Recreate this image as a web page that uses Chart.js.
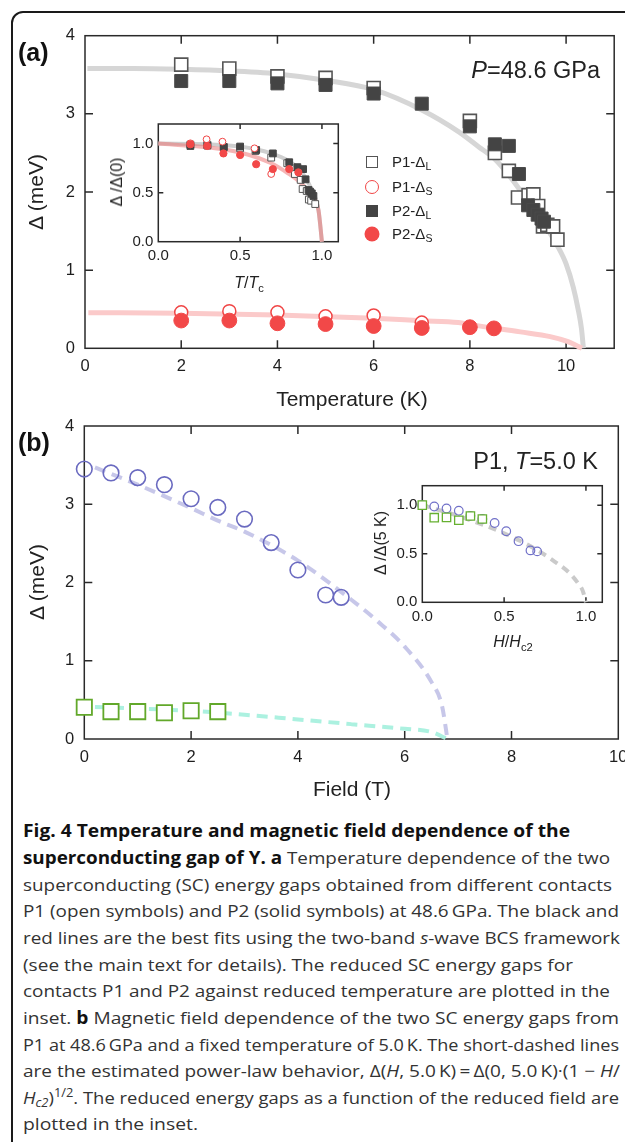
<!DOCTYPE html>
<html><head><meta charset="utf-8">
<script src="https://cdn.jsdelivr.net/npm/chart.js@4.4.1/dist/chart.umd.min.js"></script>
<style>
html,body{margin:0;padding:0;background:#fff;}
body{width:625px;height:1142px;overflow:hidden;position:relative;font-family:"Liberation Sans",Arial,sans-serif;color:#222;}
#frame{position:absolute;left:10.5px;top:10.5px;width:720px;height:1220px;border:2.5px solid #1a1a1a;border-radius:12px;box-sizing:border-box;}
canvas{position:absolute;}
.t{position:absolute;white-space:nowrap;line-height:1;}
.c{transform:translate(-50%,-50%);}
.r{transform:translate(-50%,-50%) rotate(-90deg);}
.sub{font-size:0.7em;position:relative;top:0.32em;}
.sym{position:absolute;box-sizing:border-box;transform:translate(-50%,-50%);}
.cap{position:absolute;left:23px;white-space:nowrap;font-family:"Open Sans",sans-serif;font-size:17px;line-height:26.6px;color:#333;transform-origin:0 50%;}
.cap b{color:#111;}
.cap sub{font-size:0.7em;vertical-align:-0.25em;line-height:0;}
.cap sup{font-size:0.7em;vertical-align:0.6em;line-height:0;}
</style></head>
<body>
<div id="frame"></div>
<canvas id="cA" width="625" height="420" style="left:0;top:0"></canvas>
<canvas id="cAi" width="250" height="165" style="left:100px;top:110px"></canvas>
<canvas id="cB" width="660" height="400" style="left:0;top:400px"></canvas>
<canvas id="cBi" width="255" height="165" style="left:360px;top:470px"></canvas>

<!-- panel a texts -->
<div class="t" style="left:18px;top:52px;transform:translateY(-50%);font-weight:bold;font-size:25px;color:#111">(a)</div>
<div class="t r" style="left:35px;top:192px;font-size:21px">Δ (meV)</div>
<div class="t c" style="left:352px;top:398px;font-size:21px">Temperature (K)</div>
<div class="t" style="right:25px;top:71px;transform:translateY(-50%);font-size:23.5px"><i>P</i>=48.6 GPa</div>
<div class="t r" style="left:117px;top:182px;font-size:16px">Δ /Δ(0)</div>
<div class="t c" style="left:249px;top:283px;font-size:16px"><i>T</i>/<i>T</i><span class="sub">c</span></div>
<!-- legend -->
<div class="sym" style="left:372px;top:162px;width:12px;height:12px;border:1.5px solid #555;background:#fff"></div>
<div class="sym" style="left:372px;top:187px;width:14px;height:14px;border:1.5px solid #f04545;border-radius:50%;background:#fff"></div>
<div class="sym" style="left:372px;top:211px;width:12px;height:12px;background:#444"></div>
<div class="sym" style="left:372px;top:234px;width:15px;height:15px;background:#f24848;border-radius:50%"></div>
<div class="t" style="left:392px;top:162px;transform:translateY(-55%);font-size:15px">P1-Δ<span class="sub">L</span></div>
<div class="t" style="left:392px;top:187px;transform:translateY(-55%);font-size:15px">P1-Δ<span class="sub">S</span></div>
<div class="t" style="left:392px;top:211px;transform:translateY(-55%);font-size:15px">P2-Δ<span class="sub">L</span></div>
<div class="t" style="left:392px;top:234px;transform:translateY(-55%);font-size:15px">P2-Δ<span class="sub">S</span></div>

<!-- panel b texts -->
<div class="t" style="left:18px;top:442px;transform:translateY(-50%);font-weight:bold;font-size:25px;color:#111">(b)</div>
<div class="t r" style="left:36px;top:582px;font-size:21px">Δ (meV)</div>
<div class="t c" style="left:352px;top:788px;font-size:21px">Field (T)</div>
<div class="t" style="right:27px;top:462px;transform:translateY(-50%);font-size:23.5px">P1, <i>T</i>=5.0 K</div>
<div class="t r" style="left:381px;top:543px;font-size:16px">Δ /Δ(5 K)</div>
<div class="t c" style="left:513px;top:642px;font-size:16px"><i>H</i>/<i>H</i><span class="sub">c2</span></div>

<!-- caption -->
<div class="cap" data-r="570" style="top:818.4px"><b>Fig. 4 Temperature and magnetic field dependence of the</b></div>
<div class="cap" data-r="610" style="top:845px"><b>superconducting gap of Y. a</b> Temperature dependence of the two</div>
<div class="cap" data-r="612" style="top:871.7px">superconducting (SC) energy gaps obtained from different contacts</div>
<div class="cap" data-r="619" style="top:898.3px">P1 (open symbols) and P2 (solid symbols) at 48.6&thinsp;GPa. The black and</div>
<div class="cap" data-r="620" style="top:925px">red lines are the best fits using the two-band <i>s</i>-wave BCS framework</div>
<div class="cap" data-r="573" style="top:951.6px">(see the main text for details). The reduced SC energy gaps for</div>
<div class="cap" data-r="610" style="top:978.3px">contacts P1 and P2 against reduced temperature are plotted in the</div>
<div class="cap" data-r="619" style="top:1005px">inset. <b>b</b> Magnetic field dependence of the two SC energy gaps from</div>
<div class="cap" data-r="619" style="top:1031.6px">P1 at 48.6&thinsp;GPa and a fixed temperature of 5.0&thinsp;K. The short-dashed lines</div>
<div class="cap" data-r="620" style="top:1058.3px">are the estimated power-law behavior, Δ(<i>H</i>, 5.0&thinsp;K)&thinsp;=&thinsp;Δ(0, 5.0&thinsp;K)·(1 − <i>H</i>/</div>
<div class="cap" data-r="619" style="top:1084.5px"><i>H</i><sub><i>c2</i></sub>)<sup>1/2</sup>. The reduced energy gaps as a function of the reduced field are</div>
<div class="cap" data-r="198" style="top:1110.5px">plotted in the inset.</div>

<script>
// ================= DATA =================
// Panel (a) main
const tickXA = [0, 2, 4, 6, 8, 10];
const tickYA = [0, 1, 2, 3, 4];
const tempP1L = [2, 3, 4, 5, 6, 8, 8.52, 8.81, 9.0, 9.22, 9.32, 9.42, 9.52, 9.61, 9.73, 9.82];
const gapP1L  = [3.63, 3.58, 3.48, 3.46, 3.33, 2.91, 2.50, 2.27, 1.93, 1.96, 1.97, 1.82, 1.56, 1.58, 1.56, 1.39];
const tempP2L = [2, 3, 4, 5, 6, 7, 8, 8.52, 8.81, 9.02, 9.21, 9.32, 9.41, 9.49, 9.54];
const gapP2L  = [3.42, 3.42, 3.39, 3.37, 3.26, 3.13, 2.84, 2.61, 2.59, 2.23, 1.83, 1.77, 1.71, 1.66, 1.62];
const tempP1S = [2, 3, 4, 5, 6, 7];
const gapP1S  = [0.46, 0.475, 0.46, 0.41, 0.42, 0.33];
const tempP2S = [2, 3, 4, 5, 6, 7, 8, 8.5];
const gapP2S  = [0.355, 0.355, 0.32, 0.31, 0.285, 0.26, 0.27, 0.255];
const fitTempL = [0.05, 1, 2, 3, 4, 5, 6, 7, 7.77, 8.18, 8.52, 8.83, 9.14, 9.49, 9.83, 10.0, 10.15, 10.25, 10.32, 10.36];
const fitGapL  = [3.58, 3.58, 3.57, 3.55, 3.51, 3.43, 3.31, 3.05, 2.77, 2.58, 2.42, 2.20, 1.94, 1.64, 1.30, 1.08, 0.78, 0.50, 0.25, 0];
const fitTempS = [0.07, 2, 4, 6, 7, 7.76, 8.05, 9.05, 9.67, 10.04, 10.33];
const fitGapS  = [0.456, 0.448, 0.426, 0.384, 0.353, 0.33, 0.30, 0.21, 0.15, 0.085, 0];

// Panel (a) inset
const tickInset = [0, 0.5, 1.0];
const redTP1L = [0.196, 0.3, 0.4, 0.5, 0.594, 0.69, 0.788, 0.835, 0.87, 0.882, 0.907, 0.92, 0.934, 0.959];
const redDP1L = [0.99, 0.99, 0.963, 0.952, 0.925, 0.857, 0.80, 0.69, 0.63, 0.537, 0.517, 0.43, 0.418, 0.384];
const redTP2L = [0.196, 0.3, 0.4, 0.5, 0.598, 0.70, 0.8, 0.85, 0.885, 0.90, 0.918, 0.928, 0.938, 0.948];
const redDP2L = [0.976, 0.98, 0.966, 0.97, 0.935, 0.90, 0.81, 0.76, 0.74, 0.636, 0.527, 0.51, 0.493, 0.466];
const redTP1S = [0.196, 0.295, 0.392, 0.588, 0.69];
const redDP1S = [1.003, 1.044, 1.02, 0.952, 0.69];
const redTP2S = [0.196, 0.299, 0.398, 0.5, 0.598, 0.70, 0.80, 0.856];
const redDP2S = [0.993, 0.976, 0.90, 0.884, 0.79, 0.74, 0.74, 0.707];
const fitRedTL = [0, 0.3, 0.5, 0.69, 0.79, 0.876, 0.938, 0.979, 1.0];
const fitRedDL = [1.0, 0.993, 0.97, 0.90, 0.83, 0.71, 0.53, 0.32, 0];
const fitRedTS = [0, 0.3, 0.5, 0.69, 0.79, 0.876, 0.938, 0.979, 1.0];
const fitRedDS = [1.0, 0.963, 0.91, 0.80, 0.70, 0.59, 0.466, 0.32, 0];

// Panel (b) main
const tickXB = [0, 2, 4, 6, 8, 10];
const tickYB = [0, 1, 2, 3, 4];
const fieldL = [0, 0.5, 1, 1.5, 2, 2.5, 3, 3.5, 4, 4.52, 4.81];
const gapFieldL = [3.45, 3.40, 3.34, 3.25, 3.07, 2.96, 2.81, 2.51, 2.16, 1.84, 1.81];
const fieldS = [0, 0.5, 1, 1.5, 2, 2.5];
const gapFieldS = [0.405, 0.35, 0.35, 0.336, 0.36, 0.35];
const fitFieldL = [0.2, 1, 2, 2.5, 3, 4, 5, 5.5, 6, 6.5, 6.7, 6.8];
const fitGapFieldL = [3.47, 3.25, 2.95, 2.79, 2.65, 2.28, 1.78, 1.5, 1.18, 0.73, 0.42, 0];
const fitFieldS = [0.2, 1, 2, 3, 4, 5, 6, 6.5, 6.8];
const fitGapFieldS = [0.41, 0.39, 0.36, 0.31, 0.25, 0.19, 0.13, 0.09, 0];

// Panel (b) inset
const redHL = [0, 0.073, 0.148, 0.223, 0.294, 0.367, 0.442, 0.513, 0.588, 0.661, 0.702];
const redGL = [1.0, 0.986, 0.966, 0.942, 0.89, 0.858, 0.816, 0.731, 0.629, 0.534, 0.524];
const redHS = [0, 0.073, 0.148, 0.223, 0.294, 0.367];
const redGS = [1.0, 0.871, 0.874, 0.844, 0.888, 0.857];
const fitRedH = [0, 0.1, 0.2, 0.3, 0.4, 0.5, 0.6, 0.7, 0.8, 0.9, 0.95, 0.98, 1.0];
const fitRedG = [1.0, 0.95, 0.9, 0.84, 0.78, 0.71, 0.63, 0.54, 0.43, 0.30, 0.20, 0.12, 0];

// ================= HELPERS =================
const FONT = '"Liberation Sans", Arial, sans-serif';
const pts = (xs, ys) => xs.map((x, i) => ({x: x, y: ys[i]}));

const frameTicks = {
  id: 'frameTicks',
  beforeDatasetsDraw(chart, args, opts) {
    const {ctx, chartArea: a, scales} = chart;
    const L = opts.len || 8;
    ctx.save();
    ctx.strokeStyle = '#2a2a2a';
    ctx.lineWidth = opts.width || 1.5;
    ctx.strokeRect(a.left, a.top, a.right - a.left, a.bottom - a.top);
    ctx.beginPath();
    const xs = scales.x, ys = scales.y;
    xs.ticks.forEach(t => {
      if (t.value <= xs.min || t.value >= xs.max) return;
      const p = xs.getPixelForValue(t.value);
      ctx.moveTo(p, a.bottom); ctx.lineTo(p, a.bottom - L);
      ctx.moveTo(p, a.top); ctx.lineTo(p, a.top + L);
    });
    ys.ticks.forEach(t => {
      if (t.value <= ys.min || t.value >= ys.max) return;
      const p = ys.getPixelForValue(t.value);
      ctx.moveTo(a.left, p); ctx.lineTo(a.left + L, p);
      ctx.moveTo(a.right, p); ctx.lineTo(a.right - L, p);
    });
    ctx.stroke();
    ctx.restore();
  }
};

function axis(min, max, ticks, isX, fit, size, pad, fmt) {
  return {
    type: 'linear', min: min, max: max,
    grid: {display: false, drawTicks: false},
    border: {display: false},
    afterBuildTicks: s => { s.ticks = ticks.map(v => ({value: v})); },
    afterFit: s => { if (isX) s.height = fit; else s.width = fit; },
    ticks: {font: {family: FONT, size: size}, color: '#1e1e1e', padding: pad,
            autoSkip: false, maxRotation: 0, callback: fmt || (v => String(v))}
  };
}

function baseOptions(pad, xAxis, yAxis, tickLen) {
  return {
    responsive: false, animation: false, events: [],
    layout: {padding: pad},
    plugins: {legend: {display: false}, tooltip: {enabled: false}, frameTicks: {len: tickLen}},
    scales: {x: xAxis, y: yAxis}
  };
}

function lineDs(data, color, width, order, dash) {
  return {data: data, showLine: true, borderColor: color, borderWidth: width, pointRadius: 0,
          cubicInterpolationMode: 'monotone', borderDash: dash || [], borderCapStyle: 'butt',
          order: order, clip: false, fill: false};
}
function ptDs(data, style, r, border, fill, bw, order) {
  return {data: data, showLine: false, pointStyle: style, pointRadius: r, borderColor: border,
          backgroundColor: fill, borderWidth: bw, pointBorderWidth: bw, order: order, clip: false};
}
const f1 = v => v.toFixed(1);

// ================= PANEL (a) MAIN =================
new Chart(document.getElementById('cA'), {
  type: 'scatter',
  data: {datasets: [
    lineDs(pts(fitTempL, fitGapL), '#d6d6d6', 5, 20),
    lineDs(pts(fitTempS, fitGapS), '#fbcaca', 5, 19),
    ptDs(pts(tempP1L, gapP1L), 'rect', 9.2, '#555', '#fff', 1.6, 6),
    ptDs(pts(tempP2L, gapP2L), 'rect', 9.2, '#4a4a4a', '#444', 1, 5),
    ptDs(pts(tempP1S, gapP1S), 'circle', 6.5, '#f04545', '#fff', 1.5, 4),
    ptDs(pts(tempP2S, gapP2S), 'circle', 7.4, '#f24848', '#f24848', 1, 3)
  ]},
  options: baseOptions({top: 35.7, right: 8.3, left: 0, bottom: 0},
    axis(0, 11, tickXA, true, 71.7, 16.5, 8.5),
    axis(0, 4, tickYA, false, 85, 16.5, 10), 8),
  plugins: [frameTicks]
});

// ================= PANEL (a) INSET =================
new Chart(document.getElementById('cAi'), {
  type: 'scatter',
  data: {datasets: [
    lineDs(pts(fitRedTL, fitRedDL), '#cfcfcf', 4, 20),
    lineDs(pts(fitRedTS, fitRedDS), 'rgba(236,120,120,0.55)', 4, 19),
    ptDs(pts(redTP1L, redDP1L), 'rect', 4.8, '#555', '#fff', 1, 6),
    ptDs(pts(redTP2L, redDP2L), 'rect', 4.8, '#444', '#444', 1, 5),
    ptDs(pts(redTP1S, redDP1S), 'circle', 3.4, '#f04545', '#fff', 1, 4),
    ptDs(pts(redTP2S, redDP2S), 'circle', 3.6, '#f24848', '#f24848', 1, 3)
  ]},
  options: baseOptions({top: 14, right: 11.7, left: 0, bottom: 0},
    axis(0, 1.1, tickInset, true, 33.3, 15, 5.5, f1),
    axis(0, 1.2, tickInset, false, 58.3, 15, 5, f1), 5),
  plugins: [frameTicks]
});

// ================= PANEL (b) MAIN =================
new Chart(document.getElementById('cB'), {
  type: 'scatter',
  data: {datasets: [
    lineDs(pts(fitFieldL, fitGapFieldL), 'rgba(196,196,232,0.95)', 4, 20, [11, 7]),
    lineDs(pts(fitFieldS, fitGapFieldS), 'rgba(168,240,222,0.95)', 4, 19, [11, 7]),
    ptDs(pts(fieldL, gapFieldL), 'circle', 7.8, '#6a6ac0', 'rgba(0,0,0,0)', 1.6, 4),
    ptDs(pts(fieldS, gapFieldS), 'rect', 10.8, '#62a82a', '#fff', 1.8, 3)
  ]},
  options: baseOptions({top: 26, right: 41.7, left: 0, bottom: 0},
    axis(0, 10, tickXB, true, 61, 16.5, 8.5),
    axis(0, 4, tickYB, false, 84.3, 16.5, 10), 8),
  plugins: [frameTicks]
});

// ================= PANEL (b) INSET =================
new Chart(document.getElementById('cBi'), {
  type: 'scatter',
  data: {datasets: [
    lineDs(pts(fitRedH, fitRedG), '#cacaca', 4, 20, [8, 6]),
    ptDs(pts(redHL, redGL), 'circle', 4.3, '#7070c8', 'rgba(0,0,0,0)', 1.2, 4),
    ptDs(pts(redHS, redGS), 'rect', 5.9, '#66b030', '#fff', 1.3, 3)
  ]},
  options: baseOptions({top: 15.7, right: 12.7, left: 0, bottom: 0},
    axis(0, 1.1, tickInset, true, 32.7, 15, 5.5, f1),
    axis(0, 1.2, tickInset, false, 62.3, 15, 5, f1), 5),
  plugins: [frameTicks]
});

// ================= CAPTION FIT =================
function fitCaption() {
  const lines = document.querySelectorAll('.cap');
  lines.forEach(el => {
    el.style.transform = 'none';
    const w = el.getBoundingClientRect().width;
    const target = parseFloat(el.dataset.r) - 23;
    el.style.transform = 'scaleX(' + (target / w) + ')';
  });
}
fitCaption();
if (document.fonts && document.fonts.ready) document.fonts.ready.then(fitCaption);
</script>
</body></html>
